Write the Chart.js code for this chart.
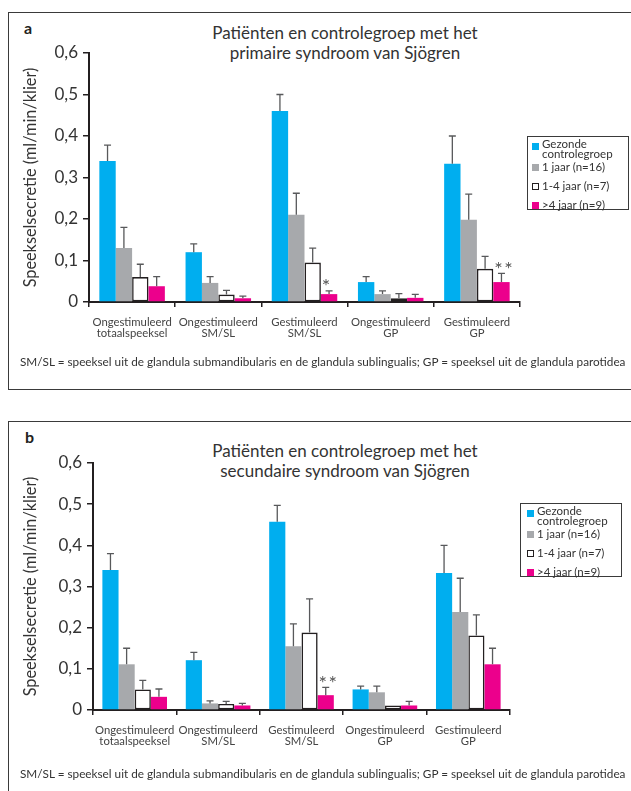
<!DOCTYPE html>
<html>
<head>
<meta charset="utf-8">
<script src="https://cdn.jsdelivr.net/npm/chart.js@4.4.1/dist/chart.umd.min.js"></script>
<style>
body { margin: 0; background: #fff; font-family: Lato, sans-serif; color: #333; }
#page { position: relative; width: 631px; height: 791px; overflow: hidden; }
.frame { position: absolute; border: 1.5px solid #3a3a3a; }
.letter { position: absolute; font-weight: bold; font-size: 16px; color: #231f20; }
.title { position: absolute; width: 400px; text-align: center; font-size: 17px; line-height: 20px; color: #333; }
.caption { position: absolute; left: 20px; font-size: 11.75px; white-space: nowrap; color: #333; }
canvas { position: absolute; left: 0; }
.legend { position: absolute; border: 1.5px solid #3a3a3a; width: 100px; height: 72px; background: #fff; }
.lg-text { position: absolute; font-size: 11.5px; line-height: 10px; width: 80px; color: #333; }
.lg-mark { position: absolute; width: 7px; height: 7px; box-sizing: border-box; }
</style>
</head>
<body>
<div id="page">
  <div class="frame" style="left:8px;top:12px;width:640px;height:376px"></div>
  <div class="frame" style="left:8px;top:421px;width:640px;height:400px"></div>
  <div class="letter" style="left:24px;top:18px">a</div>
  <div class="letter" style="left:25px;top:427px">b</div>
  <div class="title" style="left:145px;top:23px">Patiënten en controlegroep met het<br>primaire syndroom van Sjögren</div>
  <div class="title" style="left:145px;top:441px">Patiënten en controlegroep met het<br>secundaire syndroom van Sjögren</div>
  <canvas id="chartA" width="631" height="390" style="top:0"></canvas>
  <canvas id="chartB" width="631" height="391" style="top:400px"></canvas>
  <div class="caption" style="top:354px">SM/SL = speeksel uit de glandula submandibularis en de glandula sublingualis; GP = speeksel uit de glandula parotidea</div>
  <div class="caption" style="top:766px">SM/SL = speeksel uit de glandula submandibularis en de glandula sublingualis; GP = speeksel uit de glandula parotidea</div>
  <div id="legendA"></div>
  <div id="legendB"></div>
</div>
<script>
const categories = [
  ['Ongestimuleerd', 'totaalspeeksel'],
  ['Ongestimuleerd', 'SM/SL'],
  ['Gestimuleerd', 'SM/SL'],
  ['Ongestimuleerd', 'GP'],
  ['Gestimuleerd', 'GP']
];
const seriesNames = ['Gezonde controlegroep', '1 jaar (n=16)', '1-4 jaar (n=7)', '>4 jaar (n=9)'];
const seriesColors = ['#00aeef', '#a7a9ac', '#ffffff', '#ec008c'];
const yTickLabels = ['0', '0,1', '0,2', '0,3', '0,4', '0,5', '0,6'];

// a: primair syndroom van Sjogren (gemiddelde en SD)
const aControl = [0.34, 0.12, 0.46, 0.048, 0.333];
const aControlSd = [0.038, 0.02, 0.04, 0.013, 0.067];
const aYear1 = [0.13, 0.046, 0.21, 0.019, 0.198];
const aYear1Sd = [0.05, 0.015, 0.052, 0.008, 0.062];
const aYear1to4 = [0.06, 0.018, 0.095, 0.009, 0.08];
const aYear1to4Sd = [0.031, 0.01, 0.035, 0.011, 0.03];
const aYear4 = [0.038, 0.009, 0.019, 0.01, 0.048];
const aYear4Sd = [0.023, 0.005, 0.008, 0.0085, 0.021];
const aSig = ['', '', '*', '', '* *'];

// b: secundair syndroom van Sjogren
const bControl = [0.34, 0.121, 0.457, 0.05, 0.333];
const bControlSd = [0.04, 0.019, 0.04, 0.008, 0.067];
const bYear1 = [0.111, 0.016, 0.155, 0.043, 0.238];
const bYear1Sd = [0.039, 0.006, 0.054, 0.015, 0.082];
const bYear1to4 = [0.05, 0.0146, 0.188, 0.011, 0.181];
const bYear1to4Sd = [0.022, 0.0064, 0.082, 0, 0.05];
const bYear4 = [0.032, 0.011, 0.036, 0.011, 0.111];
const bYear4Sd = [0.019, 0.005, 0.019, 0.01, 0.039];
const bSig = ['', '', '* *', '', ''];

const errorBars = {
  id: 'errorBars',
  afterDatasetsDraw(chart) {
    const ctx = chart.ctx;
    const y = chart.scales.y;
    ctx.save();
    ctx.strokeStyle = '#58595b';
    ctx.lineWidth = 1.3;
    chart.data.datasets.forEach((ds, i) => {
      chart.getDatasetMeta(i).data.forEach((bar, j) => {
        const sd = ds.sd[j];
        if (!sd) return;
        const top = y.getPixelForValue(ds.data[j] + sd);
        ctx.beginPath();
        ctx.moveTo(bar.x, bar.y);
        ctx.lineTo(bar.x, top);
        ctx.moveTo(bar.x - 3.5, top);
        ctx.lineTo(bar.x + 3.5, top);
        ctx.stroke();
      });
    });
    // sterretjes boven de laatste reeks
    const last = chart.data.datasets.length - 1;
    const ds = chart.data.datasets[last];
    ctx.fillStyle = '#555';
    ctx.font = '20px Lato';
    ctx.textAlign = 'center';
    ctx.textBaseline = 'alphabetic';
    const m = ctx.measureText('*');
    const mid = (m.actualBoundingBoxAscent - m.actualBoundingBoxDescent) / 2;
    chart.getDatasetMeta(last).data.forEach((bar, j) => {
      const s = chart.options.sig[j];
      if (!s) return;
      const top = y.getPixelForValue(ds.data[j] + ds.sd[j]);
      const stars = s.split(' ');
      const cy = top - 8 + mid;
      stars.forEach((st, k) => {
        const cx = bar.x + (stars.length === 1 ? -3 : 2 + (k - 0.5) * 10);
        ctx.fillText(st, cx, cy);
      });
    });
    ctx.restore();
  }
};

function makeChart(id, values, sds, sig, box) {
  const datasets = values.map((v, i) => ({
    label: seriesNames[i],
    data: v,
    sd: sds[i],
    backgroundColor: seriesColors[i],
    borderColor: '#231f20',
    borderWidth: i === 2 ? 1.6 : 0,
    borderSkipped: false
  }));
  return new Chart(document.getElementById(id), {
    type: 'bar',
    data: { labels: categories, datasets: datasets },
    options: {
      responsive: false,
      animation: false,
      sig: sig,
      layout: { padding: { top: box.top, right: box.right, left: 0, bottom: 0 } },
      datasets: { bar: { categoryPercentage: box.cat, barPercentage: 1 } },
      plugins: { legend: { display: false }, tooltip: { enabled: false } },
      scales: {
        x: {
          grid: { offset: true, drawOnChartArea: false, tickLength: 5, color: '#231f20', lineWidth: 1.5 },
          border: { color: '#231f20', width: 2 },
          ticks: { color: '#444', font: { family: 'Lato', size: 11.3, lineHeight: 0.97 }, padding: 10, maxRotation: 0, autoSkip: false },
          afterFit: s => { s.height = box.xh; }
        },
        y: {
          min: 0,
          max: 0.6,
          grid: { drawOnChartArea: false, tickLength: 6, color: '#231f20', lineWidth: 1.5 },
          border: { color: '#231f20', width: 2 },
          ticks: {
            stepSize: 0.1,
            color: '#333',
            padding: 5,
            font: { family: 'Lato', size: 17 },
            callback: (v, i) => yTickLabels[i]
          },
          title: {
            display: true,
            text: 'Speekselsecretie (ml/min/klier)',
            color: '#333',
            font: { family: 'Lato', size: 16.3 },
            padding: { top: 21, bottom: 0 }
          },
          afterFit: s => { s.width = box.left; }
        }
      }
    },
    plugins: [errorBars]
  });
}

function buildLegend(id, pos, tops) {
  const el = document.getElementById(id);
  el.className = 'legend';
  el.style.left = pos.x + 'px';
  el.style.top = pos.y + 'px';
  seriesNames.forEach((name, i) => {
    const t = document.createElement('div');
    t.className = 'lg-text';
    t.style.left = pos.tx + 'px';
    t.style.top = tops[i] + 'px';
    t.textContent = name;
    el.appendChild(t);
    const m = document.createElement('div');
    m.className = 'lg-mark';
    m.style.left = pos.mx + 'px';
    m.style.top = (tops[i] + (i === 0 ? 4 : 2)) + 'px';
    m.style.background = seriesColors[i];
    if (i === 2) m.style.border = '1.5px solid #231f20';
    el.appendChild(m);
  });
}

makeChart('chartA', [aControl, aYear1, aYear1to4, aYear4], [aControlSd, aYear1Sd, aYear1to4Sd, aYear4Sd], aSig,
  { left: 89, right: 111, top: 53, xh: 88, cat: 0.76 });
makeChart('chartB', [bControl, bYear1, bYear1to4, bYear4], [bControlSd, bYear1Sd, bYear1to4Sd, bYear4Sd], bSig,
  { left: 93, right: 121, top: 63, xh: 81, cat: 0.775 });

buildLegend('legendA', { x: 527, y: 136, tx: 14, mx: 4 }, [2, 25, 44, 63]);
buildLegend('legendB', { x: 520, y: 503, tx: 16, mx: 6 }, [2, 25, 44, 63]);
</script>
</body>
</html>
